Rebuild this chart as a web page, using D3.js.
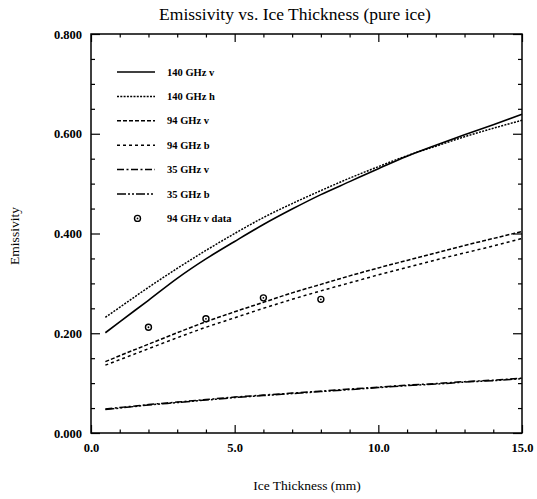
<!DOCTYPE html>
<html><head><meta charset="utf-8">
<script src="https://cdn.jsdelivr.net/npm/d3@7"></script>
<style>body{margin:0;background:#fff}</style>
</head><body>
<svg id="c" width="537" height="499"></svg>
<script>
const thickness = [0.5,1,2,3,4,5,6,7,8,9,10,11,12,13,14,15];
const ghz140v = [0.201,0.223,0.266,0.310,0.349,0.384,0.418,0.449,0.478,0.504,0.530,0.555,0.577,0.598,0.618,0.639];
const ghz140h = [0.232,0.252,0.292,0.330,0.366,0.400,0.432,0.460,0.486,0.511,0.534,0.556,0.575,0.594,0.611,0.627];
const ghz94v  = [0.143,0.155,0.178,0.201,0.223,0.243,0.262,0.281,0.298,0.315,0.331,0.346,0.361,0.376,0.390,0.404];
const ghz94h  = [0.136,0.147,0.169,0.191,0.212,0.231,0.250,0.268,0.285,0.301,0.317,0.332,0.347,0.361,0.375,0.390];
const ghz35v  = [0.048,0.051,0.057,0.062,0.067,0.072,0.076,0.080,0.084,0.088,0.092,0.096,0.099,0.103,0.106,0.110];
const ghz35h  = [0.047,0.050,0.056,0.061,0.066,0.071,0.075,0.079,0.083,0.087,0.091,0.095,0.098,0.102,0.105,0.109];
const dataX = [2,4,6,8];
const dataY = [0.212,0.229,0.271,0.268];
const seriesNames = ["140 GHz v","140 GHz h","94 GHz v","94 GHz b","35 GHz v","35 GHz b"];
const xTicks = [0,5,10,15];
const yTicks = [0,0.2,0.4,0.6,0.8];

const series = [
  {name:seriesNames[0], vals:ghz140v, dash:null, w:1.6},
  {name:seriesNames[1], vals:ghz140h, dash:"2,1.3", w:1.5},
  {name:seriesNames[2], vals:ghz94v, dash:"4,2", w:1.5},
  {name:seriesNames[3], vals:ghz94h, dash:"3,3", w:1.5},
  {name:seriesNames[4], vals:ghz35v, dash:"7,2.5,2,2.5", w:1.5},
  {name:seriesNames[5], vals:ghz35h, dash:"9,2,2,2,2,2", w:1.5}
];

const svg = d3.select("#c");
const L=91, R=522, T=34, B=433;
const x = d3.scaleLinear().domain([0,15]).range([L,R]);
const y = d3.scaleLinear().domain([0,0.8]).range([B,T]);
const serif = "'Liberation Serif','DejaVu Serif',serif";

svg.append("text").attr("x",295).attr("y",20).attr("text-anchor","middle")
  .attr("font-family",serif).attr("font-size",17.5).text("Emissivity vs. Ice Thickness (pure ice)");

svg.append("rect").attr("x",L).attr("y",T).attr("width",R-L).attr("height",B-T)
  .attr("fill","none").attr("stroke","#000").attr("stroke-width",1.5);

const fmtY = d3.format(".3f"), fmtX = d3.format(".1f");
const ax = (g, axis) => { g.call(axis); g.select(".domain").remove(); g.selectAll("line").attr("stroke","#000").attr("stroke-width",1.2); g.selectAll("text").attr("font-family",serif).attr("font-size",12.5).attr("font-weight","bold").attr("fill","#000"); };

svg.append("g").attr("transform",`translate(0,${B})`).call(g=>ax(g, d3.axisBottom(x).tickValues(xTicks).tickFormat(fmtX).tickSizeInner(-8).tickSizeOuter(0).tickPadding(10)));
svg.append("g").attr("transform",`translate(0,${B})`).call(g=>ax(g, d3.axisBottom(x).tickValues(d3.range(0,16,1).filter(v=>v%5)).tickFormat("").tickSizeInner(-3.5).tickSizeOuter(0)));
svg.append("g").attr("transform",`translate(0,${T})`).call(g=>ax(g, d3.axisTop(x).tickValues(xTicks).tickFormat("").tickSizeInner(-8).tickSizeOuter(0)));
svg.append("g").attr("transform",`translate(0,${T})`).call(g=>ax(g, d3.axisTop(x).tickValues(d3.range(0,16,1).filter(v=>v%5)).tickFormat("").tickSizeInner(-3.5).tickSizeOuter(0)));

const yMinor = d3.range(0,17).map(i=>i*0.05).filter(v=>Math.abs(v/0.2-Math.round(v/0.2))>1e-6);
svg.append("g").attr("transform",`translate(${L},0)`).call(g=>ax(g, d3.axisLeft(y).tickValues(yTicks).tickFormat(fmtY).tickSizeInner(-9).tickSizeOuter(0).tickPadding(9)));
svg.append("g").attr("transform",`translate(${L},0)`).call(g=>ax(g, d3.axisLeft(y).tickValues(yMinor).tickFormat("").tickSizeInner(-4).tickSizeOuter(0)));
svg.append("g").attr("transform",`translate(${R},0)`).call(g=>ax(g, d3.axisRight(y).tickValues(yTicks).tickFormat("").tickSizeInner(-9).tickSizeOuter(0)));
svg.append("g").attr("transform",`translate(${R},0)`).call(g=>ax(g, d3.axisRight(y).tickValues(yMinor).tickFormat("").tickSizeInner(-4).tickSizeOuter(0)));

svg.append("text").attr("x",307).attr("y",490).attr("text-anchor","middle")
  .attr("font-family",serif).attr("font-size",13.5).text("Ice Thickness (mm)");
svg.append("text").attr("transform","translate(19,236) rotate(-90)").attr("text-anchor","middle")
  .attr("font-family",serif).attr("font-size",13.5).text("Emissivity");

const line = d3.line().x((d,i)=>x(thickness[i])).y(d=>y(d)).curve(d3.curveMonotoneX);
series.forEach(s=>{
  svg.append("path").datum(s.vals).attr("d",line).attr("fill","none").attr("stroke","#000")
    .attr("stroke-width",s.w).attr("stroke-dasharray",s.dash);
});

const marker = (g, cx, cy) => {
  g.append("circle").attr("cx",cx).attr("cy",cy).attr("r",3).attr("fill","#fff").attr("stroke","#000").attr("stroke-width",1.4);
  g.append("circle").attr("cx",cx).attr("cy",cy).attr("r",0.9).attr("fill","#000");
};
const pts = svg.append("g");
dataX.forEach((d,i)=>marker(pts, x(d), y(dataY[i])));

const lg = svg.append("g");
series.forEach((s,i)=>{
  const yy = 72 + i*24.4;
  lg.append("line").attr("x1",117).attr("x2",155).attr("y1",yy).attr("y2",yy)
    .attr("stroke","#000").attr("stroke-width",s.w).attr("stroke-dasharray",s.dash);
  lg.append("text").attr("x",167).attr("y",yy+3.5).attr("font-family",serif)
    .attr("font-size",10.5).attr("font-weight","bold").text(s.name);
});
const yy = 72 + 6*24.4;
marker(lg, 137.5, yy);
lg.append("text").attr("x",167).attr("y",yy+3.5).attr("font-family",serif)
  .attr("font-size",10.5).attr("font-weight","bold").text("94 GHz v data");
</script>
</body></html>
